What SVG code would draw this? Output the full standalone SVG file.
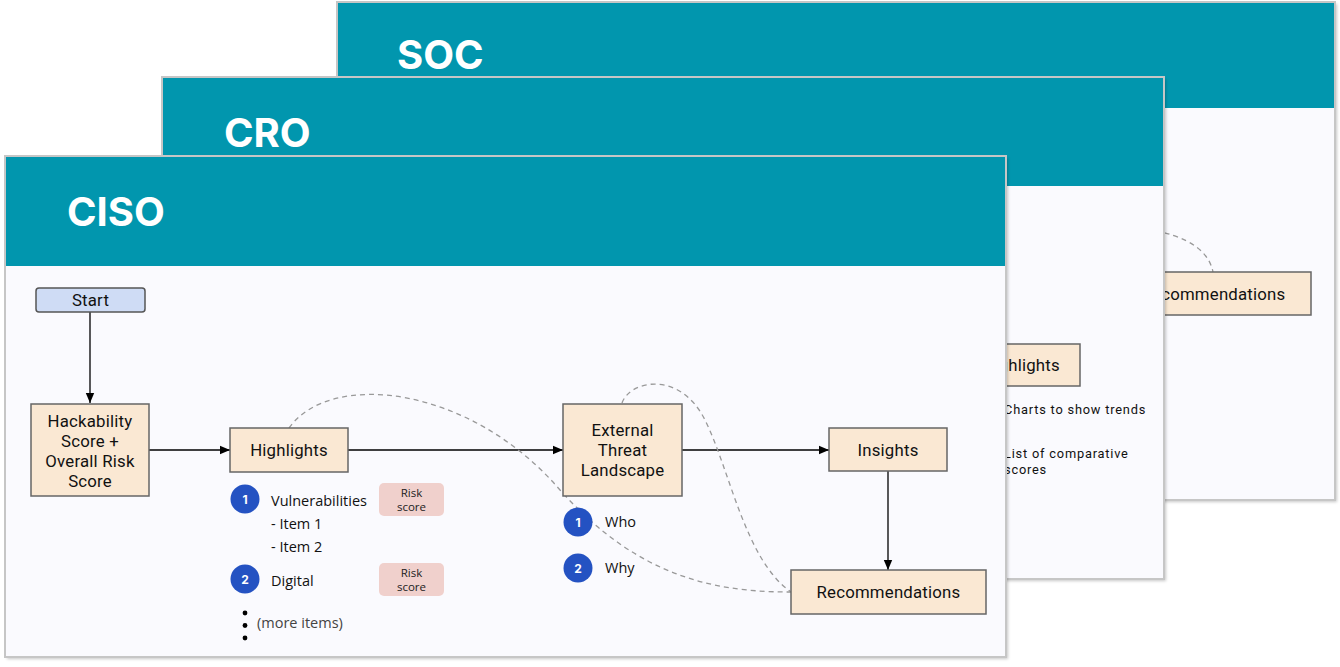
<svg xmlns="http://www.w3.org/2000/svg" width="1340" height="667" viewBox="0 0 1340 667">
<defs>
  <filter id="shadow" x="-2%" y="-2%" width="104%" height="106%">
    <feDropShadow dx="2" dy="2" stdDeviation="1.5" flood-color="#000" flood-opacity="0.22"/>
  </filter>
  <marker id="arrow" viewBox="0 0 10 10" refX="10" refY="5" markerWidth="10" markerHeight="10" markerUnits="userSpaceOnUse" orient="auto">
    <path d="M0,0.8 L10,5 L0,9.2 Z" fill="#000"/>
  </marker>
  <style>
    .body { fill: #fafafe; }
    .head { fill: #0196ae; }
    .frame { fill: none; stroke: #c6c6c6; stroke-width: 2; }
    .title { font-family: Inter, "Liberation Sans", sans-serif; font-weight: 700; font-size: 40px; fill: #ffffff; }
    .node { fill: #fae8d3; stroke: #666666; stroke-width: 1.5; }
    .start { fill: #cfdcf5; stroke: #555555; stroke-width: 1.5; }
    .nt { font-family: Roboto, "Liberation Sans", sans-serif; font-size: 16.8px; fill: #111; text-anchor: middle; letter-spacing: 0.2px; }
    .lt { font-family: "Open Sans", "Liberation Sans", sans-serif; font-size: 14.5px; fill: #111; }
    .st { font-family: Roboto, "Liberation Sans", sans-serif; font-size: 12.8px; fill: #111; letter-spacing: 0.8px; }
    .gray { fill: #444; }
    .badge { fill: #f0d0cc; }
    .bt { font-family: "Open Sans", "Liberation Sans", sans-serif; font-size: 11.5px; fill: #222; text-anchor: middle; }
    .num { fill: #2452c2; }
    .nn { font-family: Inter, "Liberation Sans", sans-serif; font-weight: 700; font-size: 12px; fill: #fff; text-anchor: middle; }
    .edge { fill: none; stroke: #000; stroke-width: 1.3; }
    .dash { fill: none; stroke: #999; stroke-width: 1.3; stroke-dasharray: 5 4; }
  </style>
</defs>

<rect x="0" y="0" width="1340" height="667" fill="#ffffff"/>

<!-- SOC card (back) -->
<g id="card-soc">
  <rect x="337" y="2" width="998" height="498" class="body" filter="url(#shadow)"/>
  <rect x="337" y="2" width="998" height="106" class="head"/>
  <rect x="337" y="2" width="998" height="498" class="frame"/>
  <text x="397" y="69" class="title">SOC</text>
  <path class="dash" d="M1120,226 Q1205,232 1213,272"/>
  <g id="soc-recommendations">
    <rect x="1116" y="272" width="195" height="43" class="node"/>
    <text x="1213.5" y="299.5" class="nt">Recommendations</text>
  </g>
</g>

<!-- CRO card (middle) -->
<g id="card-cro">
  <rect x="162" y="77" width="1002" height="502" class="body" filter="url(#shadow)"/>
  <rect x="162" y="77" width="1002" height="109" class="head"/>
  <rect x="162" y="77" width="1002" height="502" class="frame"/>
  <text x="224" y="147" class="title">CRO</text>
  <g id="cro-highlights">
    <rect x="962" y="344" width="118" height="42" class="node"/>
    <text x="1021" y="371" class="nt">Highlights</text>
  </g>
  <text x="1004" y="414" class="st">Charts to show trends</text>
  <text x="1004" y="458" class="st">List of comparative</text>
  <text x="1004" y="473.5" class="st">scores</text>
</g>

<!-- CISO card (front) -->
<g id="card-ciso">
  <rect x="5" y="156" width="1001" height="501" class="body" filter="url(#shadow)"/>
  <rect x="5" y="156" width="1001" height="110" class="head"/>
  <rect x="5" y="156" width="1001" height="501" class="frame"/>
  <text x="67" y="226" class="title">CISO</text>
</g>

<!-- Connectors -->
<g id="connectors">
  <path class="edge" d="M90,312 L90,403" marker-end="url(#arrow)"/>
  <path class="edge" d="M149,450 L230,450" marker-end="url(#arrow)"/>
  <path class="edge" d="M348,450 L563,450" marker-end="url(#arrow)"/>
  <path class="edge" d="M682,450 L829,450" marker-end="url(#arrow)"/>
  <path class="edge" d="M888,471 L888,570" marker-end="url(#arrow)"/>
  <path class="dash" d="M289,428 C330,370 470,385 560,490 C640,580 720,592 791,592"/>
  <path class="dash" d="M622,403 C630,380 680,370 705,420 C730,470 745,560 791,592"/>
</g>

<!-- Nodes -->
<g id="node-start">
  <rect x="36" y="288" width="109" height="24" rx="3" class="start"/>
  <text x="90.5" y="306" class="nt">Start</text>
</g>

<g id="node-hackability">
  <rect x="31" y="404" width="118" height="92" class="node"/>
  <text x="90" y="426.5" class="nt">Hackability</text>
  <text x="90" y="446.5" class="nt">Score +</text>
  <text x="90" y="466.5" class="nt">Overall Risk</text>
  <text x="90" y="486.5" class="nt">Score</text>
</g>

<g id="node-highlights">
  <rect x="230" y="428" width="118" height="44" class="node"/>
  <text x="289" y="456" class="nt">Highlights</text>
</g>

<g id="node-external">
  <rect x="563" y="404" width="119" height="92" class="node"/>
  <text x="622.5" y="436" class="nt">External</text>
  <text x="622.5" y="456" class="nt">Threat</text>
  <text x="622.5" y="476" class="nt">Landscape</text>
</g>

<g id="node-insights">
  <rect x="829" y="428" width="118" height="43" class="node"/>
  <text x="888" y="455.5" class="nt">Insights</text>
</g>

<g id="node-recommendations">
  <rect x="791" y="570" width="195" height="44" class="node"/>
  <text x="888.5" y="598" class="nt">Recommendations</text>
</g>

<!-- Highlights details -->
<g id="highlights-list">
  <circle cx="245" cy="499" r="14.5" class="num"/>
  <text x="245" y="503.5" class="nn">1</text>
  <text x="271" y="506" class="lt">Vulnerabilities</text>
  <text x="271" y="529" class="lt">- Item 1</text>
  <text x="271" y="552" class="lt">- Item 2</text>
  <rect x="379" y="483" width="65" height="33" rx="5" class="badge"/>
  <text x="411.5" y="497" class="bt">Risk</text>
  <text x="411.5" y="511" class="bt">score</text>

  <circle cx="245" cy="579" r="14.5" class="num"/>
  <text x="245" y="583.5" class="nn">2</text>
  <text x="271" y="586" class="lt">Digital</text>
  <rect x="379" y="563" width="65" height="33" rx="5" class="badge"/>
  <text x="411.5" y="577" class="bt">Risk</text>
  <text x="411.5" y="591" class="bt">score</text>

  <circle cx="245" cy="613" r="2.4" fill="#000"/>
  <circle cx="245" cy="625.5" r="2.4" fill="#000"/>
  <circle cx="245" cy="638" r="2.4" fill="#000"/>
  <text x="257" y="628" class="lt gray">(more items)</text>
</g>

<!-- External threat details -->
<g id="external-list">
  <circle cx="578" cy="522" r="14.5" class="num"/>
  <text x="578" y="526.5" class="nn">1</text>
  <text x="605" y="527" class="lt">Who</text>
  <circle cx="578" cy="568" r="14.5" class="num"/>
  <text x="578" y="572.5" class="nn">2</text>
  <text x="605" y="573" class="lt">Why</text>
</g>
</svg>
